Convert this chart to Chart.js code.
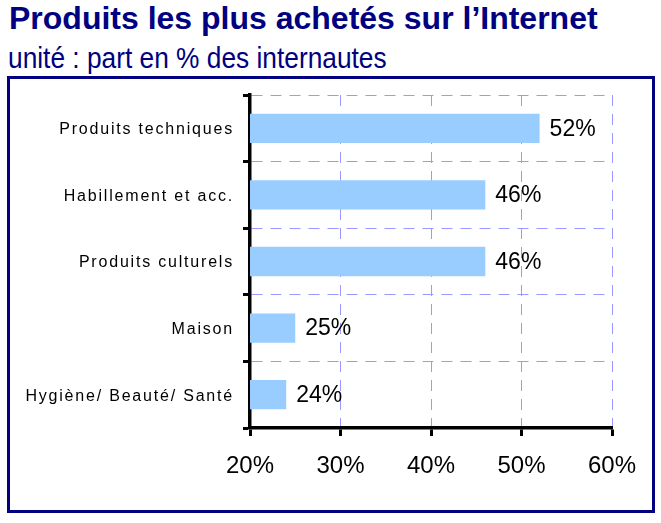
<!DOCTYPE html>
<html lang="fr">
<head>
<meta charset="utf-8">
<script src="https://cdn.jsdelivr.net/npm/chart.js@4/dist/chart.umd.min.js"></script>
<style>
  html, body { margin: 0; padding: 0; background: #fff; width: 661px; height: 523px; overflow: hidden; }
  #title { position: absolute; left: 9px; top: 0px; font: bold 32px "Liberation Sans", Arial, sans-serif; color: #000080; white-space: nowrap; }
  #subtitle { position: absolute; left: 8px; top: 41px; font: 26.3px "Liberation Sans", Arial, sans-serif; color: #000080; white-space: nowrap; transform: scaleY(1.12); transform-origin: 0 0; }
  #frame { position: absolute; left: 7px; top: 76px; width: 648px; height: 437px; box-sizing: border-box; border: 3px solid #000080; }
  #c { position: absolute; left: 0; top: 0; }
</style>
</head>
<body>
<div id="title">Produits les plus achetés sur l’Internet</div>
<div id="subtitle">unité : part en % des internautes</div>
<div id="frame"></div>
<canvas id="c" width="661" height="523"></canvas>
<script>
const categories = ["Produits techniques", "Habillement et acc.", "Produits culturels", "Maison", "Hygiène/ Beauté/ Santé"];
const shares = [52, 46, 46, 25, 24];
const axisMin = 20;
const axisMax = 60;
const axisStep = 10;

const valueLabels = {
  id: 'valueLabels',
  afterDatasetsDraw(chart) {
    const ctx = chart.ctx;
    const meta = chart.getDatasetMeta(0);
    ctx.save();
    ctx.font = '23px "Liberation Sans", Arial, sans-serif';
    ctx.fillStyle = '#000';
    ctx.textAlign = 'left';
    ctx.textBaseline = 'middle';
    meta.data.forEach((bar, i) => {
      ctx.fillText(shares[i] + '%', bar.x + 10, bar.y + 1);
    });
    ctx.restore();
  }
};

function spacedLabels(scale) {
  if (scale._spacedPatched) return;
  const orig = scale.drawLabels;
  scale.drawLabels = function (area) {
    this.ctx.save();
    this.ctx.letterSpacing = '1.8px';
    this.ctx.translate(0, 1.5);
    orig.call(this, area);
    this.ctx.restore();
  };
  scale._spacedPatched = true;
}

new Chart(document.getElementById('c'), {
  type: 'bar',
  data: {
    labels: categories,
    datasets: [{
      data: shares,
      backgroundColor: '#99ccff',
      borderWidth: 0,
      barPercentage: 0.44,
      categoryPercentage: 1
    }]
  },
  options: {
    indexAxis: 'y',
    responsive: false,
    animation: false,
    devicePixelRatio: 1,
    layout: { padding: { top: 95, right: 49, left: 0, bottom: 0 } },
    plugins: { legend: { display: false }, tooltip: { enabled: false }, title: { display: false } },
    scales: {
      x: {
        min: axisMin,
        max: axisMax,
        ticks: {
          stepSize: axisStep,
          callback: v => v + '%',
          font: { family: '"Liberation Sans", Arial, sans-serif', size: 24 },
          color: '#000',
          padding: 16,
          maxRotation: 0
        },
        grid: { color: '#9999ff', lineWidth: 1, tickColor: '#000', tickWidth: 3, tickLength: 8, tickBorderDash: [] },
        border: { color: '#000', width: 3.5, dash: [11, 8] },
        afterFit: s => { s.height = 95; }
      },
      y: {
        ticks: {
          font: { family: '"Liberation Sans", Arial, sans-serif', size: 16 },
          color: '#000',
          padding: 9
        },
        grid: { offset: true, color: '#9999ff', lineWidth: 1, tickColor: '#000', tickWidth: 3, tickLength: 7, tickBorderDash: [] },
        border: { color: '#000', width: 3.5, dash: [11, 8] },
        afterFit: s => { s.width = 250; },
        afterUpdate: spacedLabels
      }
    }
  },
  plugins: [valueLabels]
});
</script>
</body>
</html>
